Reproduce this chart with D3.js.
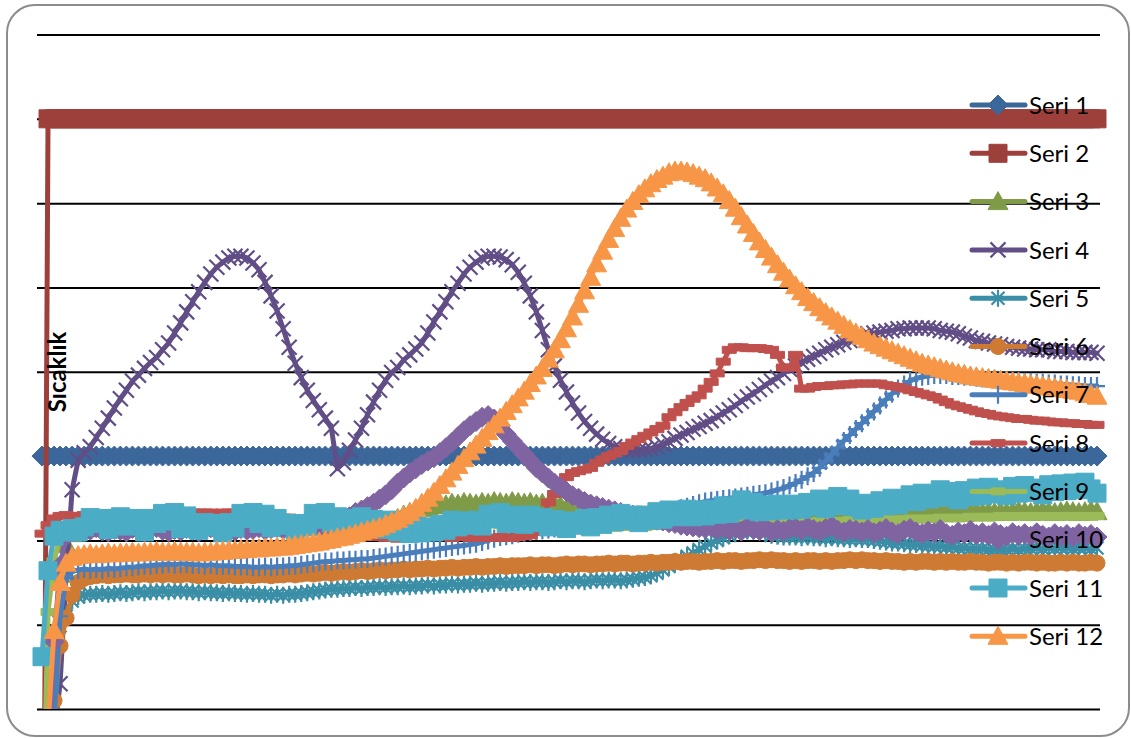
<!DOCTYPE html>
<html>
<head>
<meta charset="utf-8">
<script src="https://cdn.jsdelivr.net/npm/d3@7"></script>
<style>
  html, body { margin: 0; padding: 0; background: #fff; }
  svg { display: block; }
</style>
</head>
<body>
<svg id="chart" width="1131" height="738"></svg>
<script>
// ---- data -------------------------------------------------------------
const seriesNames = ["Seri 1","Seri 2","Seri 3","Seri 4","Seri 5","Seri 6",
                     "Seri 7","Seri 8","Seri 9","Seri 10","Seri 11","Seri 12"];
const yTicks = [0, 10, 20, 30, 40, 50, 60, 70, 80];

const seri1 = [
30,30,30,30,30,30,30,30,30,30, 30,30,30,30,30,30,30,30,30,30,
30,30,30,30,30,30,30,30,30,30, 30,30,30,30,30,30,30,30,30,30,
30,30,30,30,30,30,30,30,30,30, 30,30,30,30,30,30,30,30,30,30,
30,30,30,30,30,30,30,30,30,30, 30,30,30,30,30,30,30,30,30,30,
30,30,30,30,30,30,30,30,30,30, 30,30,30,30,30,30,30,30,30,30,
30,30,30,30,30,30,30,30,30,30, 30,30,30,30,30,30,30,30,30,30,
30,30,30,30,30,30,30,30,30,30, 30,30,30,30,30,30,30,30,30,30,
30,30,30,30,30,30,30,30,30,30, 30,30,30,30,30,30,30,30,30,30,
30,30,30,30,30,30,30,30,30,30, 30,30,30,30,30,30];

const seri2 = [
-60,70,70,70,70,70,70,70,70,70, 70,70,70,70,70,70,70,70,70,70,
70,70,70,70,70,70,70,70,70,70, 70,70,70,70,70,70,70,70,70,70,
70,70,70,70,70,70,70,70,70,70, 70,70,70,70,70,70,70,70,70,70,
70,70,70,70,70,70,70,70,70,70, 70,70,70,70,70,70,70,70,70,70,
70,70,70,70,70,70,70,70,70,70, 70,70,70,70,70,70,70,70,70,70,
70,70,70,70,70,70,70,70,70,70, 70,70,70,70,70,70,70,70,70,70,
70,70,70,70,70,70,70,70,70,70, 70,70,70,70,70,70,70,70,70,70,
70,70,70,70,70,70,70,70,70,70, 70,70,70,70,70,70,70,70,70,70,
70,70,70,70,70,70,70,70,70,70, 70,70,70,70,70,70];

const seri3 = [
-20,-3,8.0,16.0,19.5,20.8,21.3,21.5,21.4,21.6,
21.5,21.7,21.6,21.5,21.7,21.8,21.6,21.5,21.7,21.6,
21.8,21.7,21.6,21.8,21.7,21.5,21.6,21.7,21.6,21.5,
21.6,21.7,21.8,21.7,21.6,21.7,21.8,21.7,21.6,21.7,
21.8,21.7,21.6,21.7,21.8,21.7,21.6,21.7,21.8,21.7,
21.8,21.7,21.8,21.7,21.8,21.9,21.8,22.0,22.3,22.6,
23.0,23.3,23.6,23.8,24.0,24.1,24.3,24.2,24.4,24.3,
24.5,24.4,24.3,24.5,24.4,24.6,24.5,24.4,24.6,24.5,
24.4,24.5,24.3,24.4,24.2,24.3,24.1,23.8,23.5,23.2,
23.0,22.8,22.7,22.6,22.5,22.6,22.5,22.4,22.5,22.6,
22.5,22.4,22.5,22.6,22.5,22.4,22.5,22.6,22.5,22.4,
22.5,22.6,22.5,22.4,22.5,22.6,22.5,22.6,22.7,22.6,
22.5,22.6,22.7,22.6,22.5,22.6,22.7,22.8,22.7,22.6,
22.7,22.8,22.7,22.8,22.9,22.8,22.7,22.8,22.9,22.8,
22.9,23.0,22.9,23.0,23.1,23.0,23.1,23.2,23.1,23.2,
23.3,23.2,23.3,23.2,23.3,23.4,23.3,23.4,23.3,23.4,
23.3,23.4,23.5,23.4,23.3,23.4,23.5,23.4,23.3,23.4,
23.5,23.4,23.3,23.4,23.5,23.4];

const seri4 = [
-5,-5,-3,3,16,26,29.5,30.4,31.1,32.2,
33.3,34.5,35.7,36.8,37.8,38.9,39.6,40.4,41.1,41.7,
42.6,43.4,44.6,45.8,47.1,48.3,49.5,50.6,51.6,52.4,
53.0,53.5,53.7,53.7,53.5,52.9,52.1,50.6,49.0,47.2,
45.1,42.9,41.0,39.3,37.8,36.6,35.5,34.5,33.3,28.5,
29.2,30.7,31.9,33.3,34.9,36.4,37.8,39.0,39.9,40.5,
41.4,42.0,42.7,43.4,44.6,45.9,47.1,48.3,49.5,50.5,
51.6,52.4,53.0,53.5,53.7,53.7,53.6,53.3,52.7,51.8,
50.5,49.0,47.1,44.9,42.6,40.7,39.0,37.6,36.3,35.1,
34.1,33.3,32.6,32.0,31.5,31.1,30.9,30.8,30.7,30.7,
30.8,30.9,31.1,31.4,31.7,32.1,32.5,32.8,33.2,33.5,
33.9,34.2,34.7,35.1,35.5,36.0,36.5,37.0,37.4,37.9,
38.4,38.9,39.3,39.8,40.3,40.7,41.1,41.5,41.8,42.2,
42.6,42.9,43.2,43.5,43.7,44.0,44.2,44.5,44.6,44.7,
44.8,44.9,45.1,45.1,45.2,45.2,45.2,45.2,45.1,44.9,
44.8,44.7,44.5,44.2,44.0,43.7,43.6,43.4,43.3,43.2,
43.0,42.9,42.8,42.7,42.7,42.6,42.6,42.6,42.4,42.4,
42.4,42.3,42.3,42.3,42.3,42.2];

const seri5 = [
-20,-8,-2,8.5,11.0,12.8,13.3,13.5,13.6,13.6,
13.7,13.6,13.7,13.8,13.7,13.8,13.9,13.8,13.9,13.9,
14.0,13.9,14.0,14.0,13.9,13.9,13.8,13.9,13.8,13.8,
13.7,13.8,13.7,13.7,13.6,13.7,13.6,13.6,13.5,13.6,
13.5,13.6,13.6,13.7,13.8,13.9,14.0,14.1,14.2,14.2,
14.3,14.3,14.4,14.3,14.4,14.4,14.5,14.4,14.5,14.5,
14.6,14.5,14.6,14.6,14.7,14.6,14.7,14.7,14.8,14.7,
14.8,14.8,14.9,14.8,14.9,14.9,15.0,14.9,15.0,15.0,
15.1,15.0,15.1,15.1,15.0,15.1,15.2,15.1,15.2,15.2,
15.1,15.2,15.3,15.2,15.3,15.3,15.2,15.3,15.4,15.5,
15.6,15.8,16.1,16.5,16.9,17.3,17.7,18.1,18.5,18.9,
19.3,19.7,20.0,20.3,20.6,20.8,21.0,21.1,21.1,21.0,
20.8,20.6,20.5,20.4,20.4,20.4,20.3,20.4,20.3,20.3,
20.2,20.3,20.2,20.2,20.1,20.2,20.1,20.1,20.0,19.9,
19.8,19.7,19.7,19.6,19.5,19.5,19.4,19.4,19.3,19.3,
19.2,19.2,19.1,19.1,19.0,19.0,19.0,18.9,18.9,18.9,
18.9,19.0,18.9,19.0,19.0,19.1,19.0,19.1,19.0,19.1,
19.1,19.0,19.1,19.1,19.0,19.1];

const seri6 = [
-20,-5,1.0,7.5,10.8,13.5,15.0,15.5,15.7,15.8,
15.9,15.8,15.9,15.9,16.0,15.9,15.9,16.0,15.9,16.0,
15.9,16.0,15.9,15.9,16.0,15.9,15.8,15.9,15.8,15.9,
15.8,15.9,15.8,15.8,15.9,15.8,15.9,15.9,15.8,15.9,
15.9,16.0,15.9,16.0,16.1,16.0,16.1,16.2,16.1,16.2,
16.3,16.2,16.3,16.4,16.3,16.4,16.5,16.4,16.5,16.5,
16.6,16.5,16.6,16.6,16.7,16.6,16.7,16.7,16.8,16.7,
16.8,16.8,16.9,16.8,16.9,16.9,17.0,16.9,17.0,17.0,
17.0,17.1,17.0,17.1,17.1,17.0,17.1,17.2,17.1,17.2,
17.2,17.1,17.2,17.2,17.3,17.2,17.3,17.3,17.2,17.3,
17.3,17.4,17.3,17.4,17.4,17.5,17.4,17.5,17.5,17.4,
17.5,17.5,17.6,17.5,17.6,17.6,17.5,17.6,17.6,17.7,
17.6,17.7,17.6,17.6,17.5,17.6,17.5,17.6,17.6,17.5,
17.6,17.5,17.6,17.6,17.7,17.6,17.7,17.6,17.6,17.5,
17.6,17.5,17.5,17.4,17.5,17.4,17.5,17.5,17.4,17.5,
17.4,17.5,17.4,17.4,17.5,17.4,17.4,17.3,17.4,17.4,
17.3,17.4,17.3,17.4,17.4,17.3,17.4,17.3,17.3,17.4,
17.3,17.4,17.3,17.3,17.4,17.3];

const seri7 = [
-5,-5,-1,11.0,15.5,16.3,16.5,16.6,16.5,16.6,
16.5,16.7,16.6,16.7,16.8,16.8,16.9,17.0,17.0,17.1,
17.1,17.2,17.1,17.2,17.2,17.1,17.1,17.0,17.1,17.0,
17.0,17.0,16.9,16.9,16.9,16.8,16.8,16.9,16.8,16.9,
16.9,17.0,17.0,17.1,17.2,17.3,17.4,17.5,17.5,17.6,
17.6,17.7,17.7,17.8,17.8,17.9,18.0,18.1,18.2,18.3,
18.4,18.5,18.6,18.7,18.8,18.9,19.0,19.1,19.2,19.3,
19.4,19.5,19.6,19.8,20.0,20.2,20.4,20.5,20.6,20.8,
20.9,21.0,21.1,21.2,21.3,21.4,21.5,21.6,21.7,21.8,
21.9,22.0,22.1,22.2,22.3,22.4,22.5,22.6,22.7,22.8,
22.9,23.0,23.1,23.2,23.4,23.6,23.8,24.0,24.2,24.4,
24.6,24.7,24.8,24.9,25.0,25.1,25.2,25.3,25.4,25.5,
25.6,25.8,26.0,26.2,26.5,26.8,27.2,27.6,28.0,28.6,
29.4,30.2,31.0,31.8,32.5,33.2,33.9,34.6,35.3,36.0,
36.7,37.4,38.0,38.5,38.9,39.2,39.4,39.5,39.6,39.6,
39.6,39.5,39.5,39.4,39.4,39.3,39.2,39.2,39.1,39.0,
39.0,38.9,38.9,38.8,38.8,38.7,38.7,38.6,38.6,38.5,
38.5,38.4,38.4,38.3,38.3,38.3];

const seri8 = [
20.8,21.8,22.6,22.9,23.0,22.9,22.9,23.0,22.9,22.9,
22.9,22.8,22.8,22.9,22.8,22.8,22.8,22.9,22.8,22.8,
22.8,23.3,23.3,23.3,23.2,23.3,23.3,23.3,23.3,23.2,
23.3,23.3,23.3,23.3,23.0,23.0,22.9,22.9,22.8,22.8,
22.7,22.7,22.6,22.6,22.5,22.0,21.4,20.9,20.6,20.6,
20.5,20.5,20.5,20.4,20.4,20.5,20.4,20.3,20.3,20.2,
20.3,20.2,20.3,20.4,20.4,20.5,20.4,20.4,20.3,20.4,
20.4,20.3,20.3,20.4,20.3,20.3,20.4,20.3,20.3,20.4,
20.5,20.6,21.0,22.0,24.5,25.5,26.5,27.5,28.0,28.2,
28.4,28.6,29.2,29.6,30.0,30.3,30.6,31.2,31.6,32.0,
32.4,32.8,33.2,33.6,34.6,35.2,35.8,36.3,36.8,37.2,
38.0,38.8,39.8,41.2,42.6,42.9,42.9,42.8,42.8,42.8,
42.7,42.6,42.0,40.5,40.5,42.0,38.0,38.0,38.2,38.3,
38.3,38.4,38.4,38.5,38.5,38.6,38.6,38.6,38.6,38.6,
38.4,38.3,38.2,38.0,37.8,37.6,37.4,37.2,37.0,36.7,
36.4,36.1,35.9,35.7,35.5,35.3,35.1,35.0,34.8,34.7,
34.6,34.5,34.4,34.4,34.3,34.2,34.2,34.1,34.0,34.0,
33.9,33.9,33.8,33.8,33.7,33.7];

const seri9 = [
-20,11.5,17.5,20.5,21.0,21.3,21.4,21.3,21.5,21.4,
21.5,21.4,21.5,21.6,21.5,21.4,21.5,21.6,21.5,21.5,
21.6,21.5,21.4,21.5,21.6,21.5,21.5,21.4,21.5,21.6,
21.5,21.6,21.5,21.4,21.5,21.6,21.5,21.6,21.5,21.5,
21.6,21.5,21.6,21.7,21.6,21.5,21.6,21.7,21.6,21.7,
21.6,21.7,21.6,21.7,21.8,21.7,21.6,21.7,21.8,21.7,
21.8,21.7,21.8,21.9,21.8,21.7,21.8,21.9,21.8,21.9,
21.8,21.9,21.8,21.9,22.0,21.9,21.8,21.9,22.0,21.9,
21.8,21.9,21.8,21.7,21.8,21.7,21.6,21.7,21.6,21.7,
21.6,21.5,21.6,21.5,21.6,21.5,21.6,21.7,21.6,21.7,
21.6,21.7,21.8,21.7,21.8,21.7,21.8,21.9,21.8,21.9,
21.8,21.9,22.0,21.9,22.0,21.9,22.0,22.1,22.0,22.1,
22.0,22.1,22.0,22.1,22.2,22.1,22.2,22.1,22.2,22.3,
22.2,22.3,22.2,22.3,22.4,22.3,22.4,22.3,22.4,22.5,
22.4,22.5,22.4,22.5,22.6,22.5,22.6,22.5,22.6,22.7,
22.6,22.7,22.6,22.7,22.8,22.7,22.8,22.7,22.8,22.9,
22.8,22.9,22.8,22.9,22.8,22.9,22.8,22.9,22.8,22.9,
22.8,22.9,22.8,22.9,22.8,22.9];

const seri10 = [
-20,-5,8.0,17.0,20.5,21.0,21.3,21.0,21.2,21.5,
21.1,21.0,21.3,21.2,21.0,21.4,21.2,21.0,21.3,21.5,
21.2,21.0,21.3,21.1,21.4,21.2,21.0,21.3,21.5,21.2,
21.0,21.3,21.1,21.4,21.2,21.3,21.5,21.2,21.4,21.6,
21.3,21.5,21.7,21.4,21.6,21.8,21.6,21.9,21.7,22.0,
22.4,22.8,23.3,23.6,24.0,24.4,24.9,25.4,26.0,26.8,
27.4,28.0,28.5,29.0,29.4,29.8,30.4,31.0,31.6,32.3,
33.0,33.6,34.1,34.6,34.8,34.4,33.6,32.6,31.8,31.0,
30.2,29.4,28.6,28.0,27.4,26.8,26.3,25.8,25.3,25.0,
24.6,24.3,24.1,23.9,23.7,23.5,23.3,23.1,23.0,22.8,
22.7,22.6,22.4,22.3,22.1,22.0,21.8,21.7,21.6,21.5,
21.4,21.6,21.3,21.5,21.2,21.4,21.1,21.6,21.3,21.2,
21.5,21.0,21.3,21.1,21.4,21.5,21.2,21.6,21.3,21.1,
21.4,21.7,21.2,21.0,21.3,21.2,21.0,21.3,20.9,21.1,
21.4,21.0,20.8,21.2,21.4,21.0,20.8,21.1,20.9,21.3,
20.8,20.6,21.0,20.8,21.2,20.7,20.9,20.6,21.0,20.7,
20.5,20.9,20.6,20.8,20.5,20.9,20.6,20.4,20.8,20.5,
20.7,20.4,20.8,20.5,20.7,20.4];

const seri11 = [
6.2,16.4,20.5,21.2,21.0,21.4,21.0,21.6,22.7,22.0,
22.6,21.3,22.5,22.8,21.7,22.6,22.2,21.0,22.6,22.0,
23.2,22.3,23.3,21.4,22.9,22.0,21.2,22.1,21.6,22.0,
20.9,22.1,21.5,23.2,22.6,23.3,22.0,23.1,21.5,22.6,
21.8,22.0,21.2,22.0,21.6,23.2,22.5,23.3,22.1,22.8,
21.9,22.6,21.4,22.8,22.2,22.5,22.0,21.3,22.4,21.0,
21.5,20.8,21.9,20.9,21.6,21.0,21.9,21.2,22.4,21.6,
22.3,21.8,22.4,21.7,23.1,22.6,23.3,22.0,23.0,22.4,
21.9,23.0,22.1,22.7,21.6,22.5,22.0,21.4,22.3,21.8,
22.6,21.6,22.7,21.9,23.0,22.2,23.2,22.4,23.0,22.1,
23.0,22.4,23.4,22.5,23.6,22.8,23.3,23.7,22.8,23.6,
22.9,23.7,23.1,24.1,23.2,23.9,24.8,23.6,24.5,23.4,
24.2,23.5,24.3,23.8,23.6,24.3,23.7,24.5,24.0,24.9,
23.8,24.6,25.2,24.1,24.9,24.0,23.6,24.4,23.8,24.7,
24.1,25.0,24.2,24.8,25.4,24.6,25.6,24.9,25.3,26.0,
25.1,25.8,24.8,25.9,25.2,26.2,25.3,26.3,25.5,26.0,
25.3,26.4,25.6,26.5,25.7,26.2,25.4,26.6,25.8,26.7,
25.9,26.8,26.0,26.9,26.1,25.6];

const seri12 = [
-5,-2,9.3,15.0,17.3,18.0,18.2,18.3,18.4,18.3,
18.4,18.5,18.4,18.5,18.5,18.6,18.5,18.6,18.6,18.7,
18.6,18.6,18.7,18.6,18.6,18.6,18.5,18.6,18.6,18.7,
18.7,18.8,18.8,18.9,18.9,19.0,19.0,19.1,19.1,19.2,
19.2,19.3,19.4,19.5,19.6,19.7,19.8,20.0,20.1,20.3,
20.4,20.6,20.8,21.0,21.2,21.4,21.6,21.9,22.2,22.5,
22.9,23.3,23.8,24.4,25.0,25.7,26.5,27.3,28.1,28.9,
29.7,30.5,31.3,32.1,32.9,33.7,34.5,35.3,36.1,36.9,
37.7,38.6,39.5,40.4,41.5,42.6,43.8,45.1,46.5,48.0,
49.6,51.2,52.8,54.3,55.7,57.0,58.2,59.3,60.2,61.0,
61.7,62.3,62.8,63.2,63.6,63.8,63.8,63.7,63.5,63.2,
62.9,62.4,61.8,61.1,60.3,59.4,58.4,57.4,56.4,55.4,
54.5,53.6,52.7,51.8,51.0,50.2,49.5,48.8,48.2,47.6,
47.0,46.5,46.0,45.5,45.0,44.6,44.2,43.8,43.4,43.1,
42.8,42.5,42.2,41.9,41.6,41.3,41.0,40.8,40.6,40.4,
40.2,40.0,39.8,39.7,39.5,39.4,39.3,39.2,39.1,39.0,
38.9,38.8,38.7,38.6,38.5,38.4,38.3,38.2,38.1,38.0,
37.9,37.8,37.7,37.5,37.3,37.1];

const seriesValues = [seri1, seri2, seri3, seri4, seri5, seri6,
                      seri7, seri8, seri9, seri10, seri11, seri12];
const seriesColors = ["#3c679a","#9d403c","#7f9b48","#614e86","#3a8ea6","#cf7a33",
                      "#4a7ebb","#c0504d","#9bbb59","#8064a2","#4bacc6","#f79646"];
const seriesMarkers = ["diamond","square","triangle","x","star","circle",
                       "plus","dash","dash","diamond","square","triangle"];

// ---- layout -----------------------------------------------------------
const W = 1131, H = 738;
const plot = { left: 37, right: 1100, top: 34.5, bottom: 709 };
const nPoints = seri1.length;

const svg = d3.select("#chart");

// outer rounded frame
svg.append("rect")
  .attr("x", 7).attr("y", 5).attr("width", 1122).attr("height", 731)
  .attr("rx", 28).attr("ry", 28)
  .attr("fill", "#fff").attr("stroke", "#8c8c8c").attr("stroke-width", 2);

const x = d3.scaleLinear().domain([0, nPoints - 1]).range([42, 1097]);
const y = d3.scaleLinear().domain([0, 80]).range([plot.bottom, plot.top]);

// horizontal gridlines
const grid = svg.append("g")
  .attr("transform", `translate(${plot.left},0)`)
  .call(d3.axisLeft(y).tickValues(yTicks).tickSize(-(plot.right - plot.left)).tickFormat(""));
grid.select(".domain").remove();
grid.selectAll(".tick line").attr("stroke", "#000").attr("stroke-width", 2);

svg.append("clipPath").attr("id", "plotClip")
  .append("rect").attr("x", 0).attr("y", plot.top - 20)
  .attr("width", W).attr("height", plot.bottom - plot.top + 20);

// marker shapes
function markerPath(type) {
  switch (type) {
    case "diamond":  return "M0,-10L10,0L0,10L-10,0Z";
    case "square":   return "M-9,-9H9V9H-9Z";
    case "triangle": return "M0,-10L10,8L-10,8Z";
    case "circle":   return "M8,0A8,8 0 1,1 -8,0A8,8 0 1,1 8,0Z";
    case "x":        return "M-7.5,-7.5L7.5,7.5M-7.5,7.5L7.5,-7.5";
    case "star":     return "M-6.5,-6.5L6.5,6.5M-6.5,6.5L6.5,-6.5M0,-8.5L0,8.5";
    case "plus":     return "M0,-9L0,9M-8,0L8,0";
    case "dash":     return "M-7,-3.5H7V3.5H-7Z";
  }
}
const strokedMarker = t => t === "x" || t === "star" || t === "plus";

function styleMarker(sel, type, color) {
  if (strokedMarker(type)) {
    sel.attr("fill", "none").attr("stroke", color).attr("stroke-width", 2.2);
  } else {
    sel.attr("fill", color).attr("stroke", color).attr("stroke-width", 1);
  }
}

const line = d3.line().x((d, i) => x(i)).y(d => y(d));

const seriesLayer = svg.append("g").attr("clip-path", "url(#plotClip)");

seriesValues.forEach((vals, k) => {
  const g = seriesLayer.append("g").attr("class", "series");
  g.append("path")
    .attr("d", line(vals))
    .attr("fill", "none")
    .attr("stroke", seriesColors[k])
    .attr("stroke-width", 5)
    .attr("stroke-linejoin", "round")
    .attr("stroke-linecap", "round");
  g.selectAll("path.mk")
    .data(vals)
    .join("path")
    .attr("class", "mk")
    .attr("d", markerPath(seriesMarkers[k]))
    .attr("transform", (d, i) => `translate(${x(i)},${y(d)})`)
    .call(styleMarker, seriesMarkers[k], seriesColors[k]);
});

// axis title
svg.append("text")
  .attr("transform", "translate(66,372) rotate(-90)")
  .attr("text-anchor", "middle")
  .attr("font-family", "Lato, 'Open Sans', sans-serif")
  .attr("font-weight", "bold")
  .attr("font-size", 24)
  .attr("fill", "#000")
  .text("Sıcaklık");

// legend
const legend = svg.append("g");
seriesNames.forEach((name, k) => {
  const ry = 105 + k * 48.3;
  const row = legend.append("g").attr("transform", `translate(0,${ry})`);
  row.append("line")
    .attr("x1", 972).attr("x2", 1025).attr("y1", 0).attr("y2", 0)
    .attr("stroke", seriesColors[k]).attr("stroke-width", 5)
    .attr("stroke-linecap", "round");
  row.append("path")
    .attr("d", markerPath(seriesMarkers[k]))
    .attr("transform", "translate(998,0)")
    .call(styleMarker, seriesMarkers[k], seriesColors[k]);
  row.append("text")
    .attr("x", 1029).attr("y", 8.6)
    .attr("font-family", "Lato, 'Open Sans', sans-serif")
    .attr("font-size", 24)
    .attr("fill", "#000")
    .text(name);
});
</script>
</body>
</html>
